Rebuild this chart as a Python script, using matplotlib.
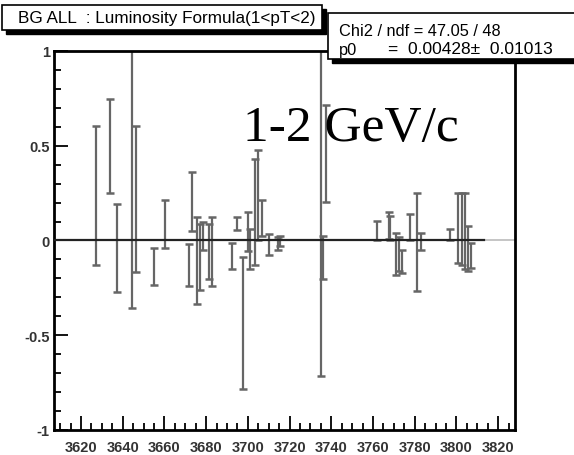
import matplotlib.pyplot as plt
import numpy as np
from matplotlib.patches import Rectangle
from matplotlib.ticker import MultipleLocator

# error bar ends (lower, upper)
mass = np.array([3627.0, 3634.0, 3637.4, 3644.3, 3646.5, 3655.0, 3660.3, 3671.8,
                 3673.1, 3675.5, 3677.0, 3678.5, 3681.4, 3683.0, 3692.6, 3695.0,
                 3697.7, 3699.8, 3701.0, 3703.6, 3704.6, 3706.7, 3710.2, 3714.5,
                 3715.5, 3735.0, 3736.0, 3737.3, 3761.8, 3767.5, 3768.2, 3770.8,
                 3772.5, 3773.8, 3777.5, 3781.0, 3783.2, 3797.0, 3800.8, 3802.5,
                 3804.3, 3805.3, 3807.0])
lower = np.array([-0.13, 0.25, -0.27, -0.355, -0.166, -0.233, -0.039, -0.24,
                  0.05, -0.333, -0.26, -0.05, -0.206, -0.24, -0.15, 0.055,
                  -0.785, -0.056, -0.153, -0.127, 0.0, 0.023, -0.079, -0.048,
                  -0.03, -0.718, -0.206, 0.203, 0.005, 0.009, 0.0, -0.18,
                  -0.16, -0.171, 0.005, -0.265, -0.05, 0.005, -0.118, -0.132,
                  -0.153, -0.162, -0.145])
upper = np.array([0.605, 0.744, 0.19, 1.16, 0.605, -0.042, 0.212, -0.02,
                  0.363, 0.125, 0.085, 0.10, 0.085, 0.125, -0.012, 0.125,
                  -0.086, 0.15, 0.058, 0.43, 0.478, 0.212, 0.032, 0.02,
                  0.025, 1.02, 0.023, 0.714, 0.104, 0.15, 0.13, 0.04,
                  0.02, -0.048, 0.138, 0.252, 0.037, 0.062, 0.252, 0.252,
                  0.252, 0.076, -0.012])
value = (upper + lower) / 2
error = (upper - lower) / 2

p0 = 0.00428
fit_range = (3607, 3813)

plt.rcParams['font.family'] = ['Liberation Sans', 'DejaVu Sans']

fig = plt.figure(figsize=(5.74, 4.56), dpi=100)
ax = fig.add_axes([0.094, 0.055, 0.803, 0.831])

ax.axhline(0, color='#bbbbbb', lw=1.2, zorder=1)
ax.plot(fit_range, [p0, p0], color='#222222', lw=1.6, zorder=3)
ax.errorbar(mass, value, yerr=error, fmt='none', ecolor='#666666',
            elinewidth=1.6, capsize=3, capthick=1.8, zorder=2)

ax.set_xlim(3607, 3828)
ax.set_ylim(-1, 1)
ax.xaxis.set_major_locator(MultipleLocator(20))
ax.xaxis.set_minor_locator(MultipleLocator(5))
ax.yaxis.set_minor_locator(MultipleLocator(0.1))
ax.set_yticks([-1, -0.5, 0, 0.5, 1], ['-1', '-0.5', '0', '0.5', '1'])
ax.tick_params(direction='in', labelsize=10.5, width=1.3)
ax.tick_params(axis='x', pad=7)
ax.tick_params(axis='y', pad=3)
ax.tick_params(which='major', length=10)
ax.tick_params(which='minor', direction='in', length=5, width=1.3)
for lab in ax.get_xticklabels() + ax.get_yticklabels():
    lab.set_fontweight('bold')
    lab.set_color('#333333')
for s in ax.spines.values():
    s.set_linewidth(2)

ax.text(0.41, 0.765, '1-2 GeV/c', transform=ax.transAxes, fontsize=37,
        family=['Liberation Serif', 'DejaVu Serif'], zorder=5)

# title box with shadow
fig.patches.append(Rectangle((6 / 574, 1 - 35 / 456), 320 / 574, 25 / 456,
                             transform=fig.transFigure, color='black'))
fig.patches.append(Rectangle((2 / 574, 1 - 31 / 456), 320 / 574, 25 / 456,
                             transform=fig.transFigure, facecolor='white',
                             edgecolor='black', lw=1.2))
fig.text(18 / 574, 1 - 19 / 456, 'BG ALL  : Luminosity Formula(1<pT<2)',
         fontsize=12.3, va='center')

# stat box with shadow
fig.patches.append(Rectangle((332 / 574, 1 - 64 / 456), 300 / 574, 46 / 456,
                             transform=fig.transFigure, color='black'))
fig.patches.append(Rectangle((328 / 574, 1 - 60 / 456), 300 / 574, 46 / 456,
                             transform=fig.transFigure, facecolor='white',
                             edgecolor='black', lw=1.2))
fig.text(339 / 574, 1 - 31 / 456, 'Chi2 / ndf = 47.05 / 48', fontsize=11.8, va='center')
fig.text(339 / 574, 1 - 50 / 456, 'p0', fontsize=11.8, va='center')
fig.text(388 / 574, 1 - 50 / 456, '=  0.00428\u00b1  0.01013', fontsize=12.5, va='center')

fig.savefig('out.png', dpi=100)
